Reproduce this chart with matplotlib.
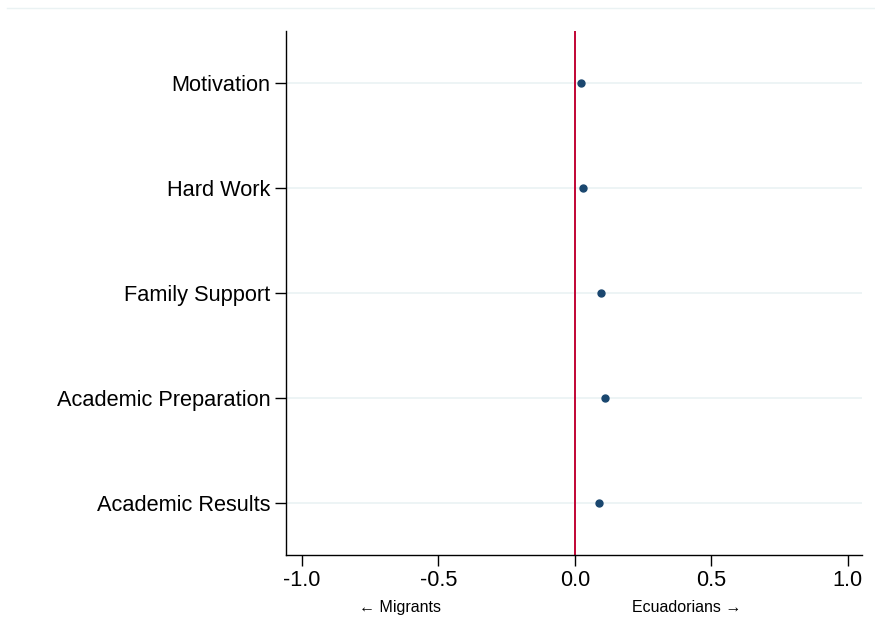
import numpy as np
import matplotlib.pyplot as plt
from matplotlib.lines import Line2D

plt.rcParams['font.family'] = ['Liberation Sans', 'DejaVu Sans']

categories = ["Motivation", "Hard Work", "Family Support", "Academic Preparation", "Academic Results"]
estimates = [0.022, 0.029, 0.095, 0.110, 0.088]
ci_low = [0.012, 0.019, 0.085, 0.100, 0.078]
ci_high = [0.032, 0.039, 0.105, 0.120, 0.098]
xticks = [-1.0, -0.5, 0.0, 0.5, 1.0]

navy = "#1a476f"
red = "#c10534"
grid = "#eaf2f3"

fig = plt.figure(figsize=(8.75, 6.19), dpi=100)
ax = fig.add_axes([286/875, 1 - 555/619, (862 - 286)/875, (555 - 31)/619])

ypos = np.arange(len(categories), 0, -1)
ax.set_ylim(0.5, 5.5)
ax.set_xlim(-1.058, 1.052)

for y in ypos:
    ax.axhline(y, color=grid, lw=1.2, zorder=0)
ax.axvline(0, color=red, lw=1.4, zorder=1)

est = np.array(estimates)
err = [est - np.array(ci_low), np.array(ci_high) - est]
ax.errorbar(est, ypos, xerr=err, fmt='o', color=navy, ms=5, elinewidth=2.5, capsize=0, zorder=3)

ax.set_yticks(ypos)
ax.set_yticklabels(categories, fontsize=15.7)
ax.set_xticks(xticks)
ax.set_xticklabels([f"{t:.1f}" for t in xticks], fontsize=15.7)
ax.tick_params(axis='both', length=8, width=1, color='black', pad=3)

for s in ['top', 'right']:
    ax.spines[s].set_visible(False)
for s in ['left', 'bottom']:
    ax.spines[s].set_linewidth(1)

ax.text(-0.64, -0.101, "\u2190 Migrants", transform=ax.get_xaxis_transform(),
        ha='center', va='center', fontsize=11.5, family=['Liberation Sans', 'DejaVu Sans'])
ax.text(0.41, -0.101, "Ecuadorians \u2192", transform=ax.get_xaxis_transform(),
        ha='center', va='center', fontsize=11.5, family=['Liberation Sans', 'DejaVu Sans'])

fig.add_artist(Line2D([7/875, 1], [1 - 8/619, 1 - 8/619], color=grid, lw=1, transform=fig.transFigure))

fig.savefig("out.png", dpi=100, facecolor='white')
